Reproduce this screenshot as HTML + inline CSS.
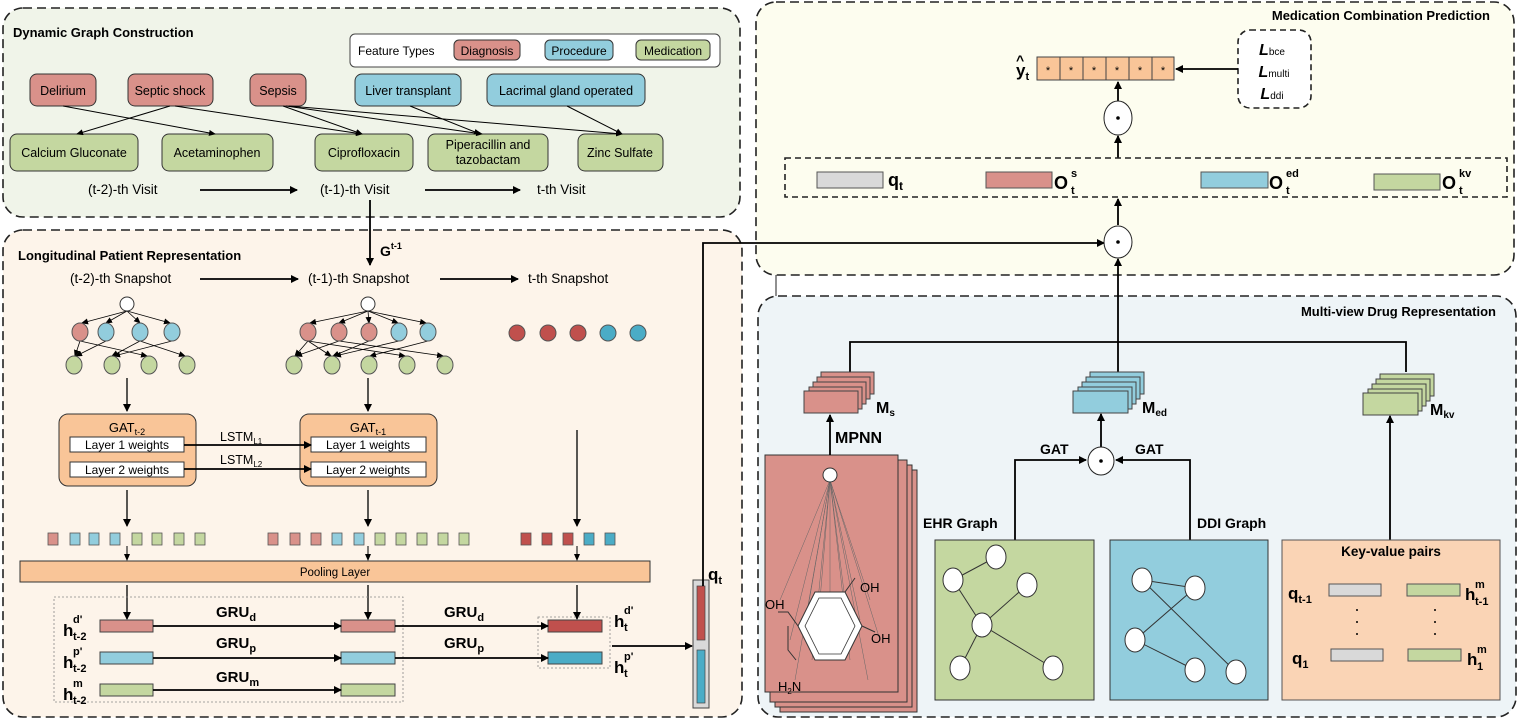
<!DOCTYPE html>
<html><head><meta charset="utf-8"><style>
html,body{margin:0;padding:0;background:#fff}
svg{display:block;font-family:"Liberation Sans",sans-serif}
.b{font-weight:bold}
</style></head><body>
<svg width="1519" height="720" viewBox="0 0 1519 720" xmlns="http://www.w3.org/2000/svg">
<defs>
<marker id="a" markerWidth="8" markerHeight="8" refX="7" refY="4" orient="auto" markerUnits="userSpaceOnUse"><path d="M0,0 L8,4 L0,8 z" fill="#000"/></marker>
<marker id="s" markerWidth="7" markerHeight="6" refX="6" refY="3" orient="auto" markerUnits="userSpaceOnUse"><path d="M0,0 L7,3 L0,6 z" fill="#000"/></marker>
</defs>

<!-- Panels -->
<rect x="3" y="8" width="737" height="209" rx="20" fill="#f0f4e9" stroke="#222" stroke-width="1.6" stroke-dasharray="9,5"/>
<rect x="3" y="230" width="739" height="487" rx="20" fill="#fdf4ea" stroke="#222" stroke-width="1.6" stroke-dasharray="9,5"/>
<rect x="756" y="2" width="758" height="273" rx="20" fill="#fdfdef" stroke="#222" stroke-width="1.6" stroke-dasharray="9,5"/>
<rect x="758" y="296" width="758" height="421" rx="20" fill="#eef4f7" stroke="#222" stroke-width="1.6" stroke-dasharray="9,5"/>
<line x1="776" y1="275" x2="776" y2="296" stroke="#222"/>

<!-- Dynamic Graph Construction -->
<text x="13" y="37" font-size="13" class="b">Dynamic Graph Construction</text>
<rect x="350" y="34" width="370" height="33" rx="5" fill="#fff" stroke="#444"/>
<text x="358" y="55" font-size="12">Feature Types</text>
<rect x="454" y="40" width="66" height="20" rx="5" fill="#d9918a" stroke="#333"/><text x="487" y="55" font-size="12" text-anchor="middle">Diagnosis</text>
<rect x="545" y="40" width="68" height="20" rx="5" fill="#92cddd" stroke="#333"/><text x="579" y="55" font-size="12" text-anchor="middle">Procedure</text>
<rect x="636" y="40" width="74" height="20" rx="5" fill="#c4d7a0" stroke="#333"/><text x="673" y="55" font-size="12" text-anchor="middle">Medication</text>

<g font-size="12.5" text-anchor="middle" stroke="#333">
<rect x="30" y="74" width="66" height="32" rx="7" fill="#d9918a"/>
<rect x="128" y="74" width="85" height="32" rx="7" fill="#d9918a"/>
<rect x="250" y="74" width="56" height="32" rx="7" fill="#d9918a"/>
<rect x="355" y="74" width="106" height="32" rx="7" fill="#92cddd"/>
<rect x="487" y="74" width="158" height="32" rx="7" fill="#92cddd"/>
<rect x="10" y="134" width="128" height="37" rx="7" fill="#c4d7a0"/>
<rect x="162" y="134" width="111" height="37" rx="7" fill="#c4d7a0"/>
<rect x="315" y="134" width="98" height="37" rx="7" fill="#c4d7a0"/>
<rect x="428" y="134" width="120" height="37" rx="7" fill="#c4d7a0"/>
<rect x="578" y="134" width="85" height="37" rx="7" fill="#c4d7a0"/>
</g>
<g font-size="12.5" text-anchor="middle">
<text x="63" y="95">Delirium</text>
<text x="170" y="95">Septic shock</text>
<text x="278" y="95">Sepsis</text>
<text x="408" y="95">Liver transplant</text>
<text x="566" y="95">Lacrimal gland operated</text>
<text x="74" y="157">Calcium Gluconate</text>
<text x="217" y="157">Acetaminophen</text>
<text x="364" y="157">Ciprofloxacin</text>
<text x="488" y="149">Piperacillin and</text>
<text x="488" y="164">tazobactam</text>
<text x="620" y="157">Zinc Sulfate</text>
</g>
<g stroke="#000" stroke-width="1" marker-end="url(#s)">
<line x1="63" y1="106" x2="215" y2="134"/>
<line x1="170" y1="106" x2="77" y2="134"/>
<line x1="175" y1="106" x2="362" y2="134"/>
<line x1="283" y1="106" x2="362" y2="134"/>
<line x1="286" y1="106" x2="482" y2="134"/>
<line x1="289" y1="106" x2="622" y2="134"/>
<line x1="410" y1="106" x2="480" y2="134"/>
<line x1="567" y1="106" x2="622" y2="134"/>
</g>
<g font-size="13.5">
<text x="88" y="194">(t-2)-th Visit</text>
<text x="320" y="194">(t-1)-th Visit</text>
<text x="537" y="194">t-th Visit</text>
</g>
<g stroke="#000" stroke-width="1.8" marker-end="url(#a)">
<line x1="200" y1="190" x2="297" y2="190"/>
<line x1="425" y1="190" x2="520" y2="190"/>
<line x1="370" y1="200" x2="370" y2="265"/>
</g>
<text x="380" y="256" font-size="14" class="b">G<tspan font-size="9" dy="-7">t-1</tspan></text>

<!-- Longitudinal -->
<text x="18" y="260" font-size="13" class="b">Longitudinal Patient Representation</text>
<g font-size="13.5">
<text x="70" y="283">(t-2)-th Snapshot</text>
<text x="308" y="283">(t-1)-th Snapshot</text>
<text x="528" y="283">t-th Snapshot</text>
</g>
<g stroke="#000" stroke-width="1.8" marker-end="url(#a)">
<line x1="200" y1="279" x2="298" y2="279"/>
<line x1="440" y1="279" x2="518" y2="279"/>
</g>
<!-- tree 1 -->
<g stroke="#000" stroke-width="0.8" marker-end="url(#s)">
<line x1="127" y1="311" x2="82" y2="323"/><line x1="127" y1="311" x2="106" y2="323"/><line x1="127" y1="311" x2="140" y2="323"/><line x1="127" y1="311" x2="170" y2="323"/>
<line x1="80" y1="341" x2="75" y2="356"/><line x1="80" y1="341" x2="147" y2="356"/><line x1="106" y1="341" x2="76" y2="356"/><line x1="140" y1="341" x2="112" y2="356"/><line x1="140" y1="341" x2="185" y2="356"/><line x1="172" y1="341" x2="114" y2="356"/>
</g>
<circle cx="127" cy="304" r="7" fill="#fff" stroke="#333"/>
<g stroke="#555"><ellipse cx="80" cy="332" rx="8" ry="9" fill="#d9918a"/><ellipse cx="106" cy="332" rx="8" ry="9" fill="#92cddd"/><ellipse cx="140" cy="332" rx="8" ry="9" fill="#92cddd"/><ellipse cx="172" cy="332" rx="8" ry="9" fill="#92cddd"/>
<ellipse cx="74" cy="365" rx="8" ry="9" fill="#c4d7a0"/><ellipse cx="112" cy="365" rx="8" ry="9" fill="#c4d7a0"/><ellipse cx="149" cy="365" rx="8" ry="9" fill="#c4d7a0"/><ellipse cx="187" cy="365" rx="8" ry="9" fill="#c4d7a0"/></g>
<!-- tree 2 -->
<g stroke="#000" stroke-width="0.8" marker-end="url(#s)">
<line x1="368" y1="311" x2="310" y2="323"/><line x1="368" y1="311" x2="339" y2="323"/><line x1="368" y1="311" x2="369" y2="323"/><line x1="368" y1="311" x2="398" y2="323"/><line x1="368" y1="311" x2="426" y2="323"/>
<line x1="308" y1="341" x2="295" y2="356"/><line x1="308" y1="341" x2="331" y2="356"/><line x1="308" y1="341" x2="405" y2="356"/><line x1="339" y1="341" x2="296" y2="356"/><line x1="339" y1="341" x2="443" y2="356"/><line x1="369" y1="341" x2="333" y2="356"/><line x1="399" y1="341" x2="335" y2="356"/><line x1="428" y1="341" x2="370" y2="356"/>
</g>
<circle cx="368" cy="304" r="7" fill="#fff" stroke="#333"/>
<g stroke="#555"><ellipse cx="308" cy="332" rx="8" ry="9" fill="#d9918a"/><ellipse cx="339" cy="332" rx="8" ry="9" fill="#d9918a"/><ellipse cx="369" cy="332" rx="8" ry="9" fill="#d9918a"/><ellipse cx="399" cy="332" rx="8" ry="9" fill="#92cddd"/><ellipse cx="428" cy="332" rx="8" ry="9" fill="#92cddd"/>
<ellipse cx="294" cy="365" rx="8" ry="9" fill="#c4d7a0"/><ellipse cx="332" cy="365" rx="8" ry="9" fill="#c4d7a0"/><ellipse cx="369" cy="365" rx="8" ry="9" fill="#c4d7a0"/><ellipse cx="407" cy="365" rx="8" ry="9" fill="#c4d7a0"/><ellipse cx="445" cy="365" rx="8" ry="9" fill="#c4d7a0"/></g>
<g stroke="#555"><circle cx="517" cy="333" r="8" fill="#c0504d"/><circle cx="548" cy="333" r="8" fill="#c0504d"/><circle cx="578" cy="333" r="8" fill="#c0504d"/><circle cx="608" cy="333" r="8" fill="#4bacc6"/><circle cx="638" cy="333" r="8" fill="#4bacc6"/></g>
<g stroke="#000" stroke-width="1.3" marker-end="url(#a)">
<line x1="127" y1="378" x2="127" y2="411"/><line x1="368" y1="378" x2="368" y2="411"/><line x1="577" y1="430" x2="577" y2="526"/>
<line x1="127" y1="490" x2="127" y2="526"/><line x1="368" y1="490" x2="368" y2="526"/>
</g>
<!-- GAT boxes -->
<rect x="59" y="414" width="137" height="72" rx="9" fill="#f9c598" stroke="#333"/>
<rect x="300" y="414" width="137" height="72" rx="9" fill="#f9c598" stroke="#333"/>
<text x="127" y="432" font-size="13" text-anchor="middle">GAT<tspan font-size="9" dy="3">t-2</tspan></text>
<text x="368" y="432" font-size="13" text-anchor="middle">GAT<tspan font-size="9" dy="3">t-1</tspan></text>
<g fill="#fff" stroke="#333"><rect x="70" y="437" width="114" height="15"/><rect x="70" y="462" width="114" height="15"/><rect x="311" y="437" width="115" height="15"/><rect x="311" y="462" width="115" height="15"/></g>
<g font-size="12" text-anchor="middle"><text x="127" y="449">Layer 1 weights</text><text x="127" y="474">Layer 2 weights</text><text x="368" y="449">Layer 1 weights</text><text x="368" y="474">Layer 2 weights</text></g>
<text x="220" y="441" font-size="12.5">LSTM<tspan font-size="8" dy="3">L1</tspan></text>
<text x="220" y="464" font-size="12.5">LSTM<tspan font-size="8" dy="3">L2</tspan></text>
<g stroke="#000" stroke-width="1.8" marker-end="url(#a)"><line x1="184" y1="445" x2="311" y2="445"/><line x1="184" y1="469" x2="311" y2="469"/></g>
<!-- squares -->
<g stroke="#555" stroke-width="0.8">
<rect x="48" y="533" width="10" height="12" fill="#d9918a"/><rect x="70" y="533" width="10" height="12" fill="#92cddd"/><rect x="89" y="533" width="10" height="12" fill="#92cddd"/><rect x="110" y="533" width="10" height="12" fill="#92cddd"/><rect x="132" y="533" width="10" height="12" fill="#c4d7a0"/><rect x="152" y="533" width="10" height="12" fill="#c4d7a0"/><rect x="174" y="533" width="10" height="12" fill="#c4d7a0"/><rect x="195" y="533" width="10" height="12" fill="#c4d7a0"/>
<rect x="268" y="533" width="10" height="12" fill="#d9918a"/><rect x="290" y="533" width="10" height="12" fill="#d9918a"/><rect x="311" y="533" width="10" height="12" fill="#d9918a"/><rect x="332" y="533" width="10" height="12" fill="#92cddd"/><rect x="354" y="533" width="10" height="12" fill="#92cddd"/><rect x="375" y="533" width="10" height="12" fill="#c4d7a0"/><rect x="396" y="533" width="10" height="12" fill="#c4d7a0"/><rect x="417" y="533" width="10" height="12" fill="#c4d7a0"/><rect x="438" y="533" width="10" height="12" fill="#c4d7a0"/><rect x="459" y="533" width="10" height="12" fill="#c4d7a0"/>
<rect x="521" y="533" width="10" height="12" fill="#c0504d"/><rect x="542" y="533" width="10" height="12" fill="#c0504d"/><rect x="563" y="533" width="10" height="12" fill="#c0504d"/><rect x="584" y="533" width="10" height="12" fill="#4bacc6"/><rect x="605" y="533" width="10" height="12" fill="#4bacc6"/>
</g>
<g stroke="#000" stroke-width="1" marker-end="url(#s)"><line x1="127" y1="546" x2="127" y2="560"/><line x1="368" y1="546" x2="368" y2="560"/><line x1="577" y1="546" x2="577" y2="560"/></g>
<rect x="20" y="561" width="630" height="21" fill="#f9c598" stroke="#333"/>
<text x="335" y="576" font-size="11.5" text-anchor="middle">Pooling Layer</text>
<g stroke="#000" stroke-width="1.3" marker-end="url(#a)"><line x1="127" y1="585" x2="127" y2="619"/><line x1="368" y1="585" x2="368" y2="619"/><line x1="577" y1="585" x2="577" y2="619"/></g>
<rect x="54" y="597" width="349" height="105" fill="none" stroke="#888" stroke-dasharray="2,2" stroke-width="0.8"/>
<rect x="538" y="617" width="72" height="51" fill="none" stroke="#888" stroke-dasharray="2,2" stroke-width="0.8"/>
<g stroke="#444">
<rect x="100" y="620" width="53" height="12" fill="#d9918a"/><rect x="341" y="620" width="54" height="12" fill="#d9918a"/><rect x="548" y="620" width="54" height="12" fill="#c0504d"/>
<rect x="100" y="652" width="53" height="12" fill="#92cddd"/><rect x="341" y="652" width="54" height="12" fill="#92cddd"/><rect x="548" y="652" width="54" height="12" fill="#4bacc6"/>
<rect x="100" y="684" width="53" height="12" fill="#c4d7a0"/><rect x="341" y="684" width="54" height="12" fill="#c4d7a0"/>
</g>
<g stroke="#000" stroke-width="1.8" marker-end="url(#a)">
<line x1="153" y1="626" x2="341" y2="626"/><line x1="395" y1="626" x2="548" y2="626"/>
<line x1="153" y1="658" x2="341" y2="658"/><line x1="395" y1="658" x2="548" y2="658"/>
<line x1="153" y1="690" x2="341" y2="690"/>
<line x1="612" y1="646" x2="692" y2="646"/>
</g>
<g font-size="15" class="b">
<text x="216" y="617">GRU<tspan font-size="11" dy="4">d</tspan></text>
<text x="444" y="617">GRU<tspan font-size="11" dy="4">d</tspan></text>
<text x="216" y="648">GRU<tspan font-size="11" dy="4">p</tspan></text>
<text x="444" y="648">GRU<tspan font-size="11" dy="4">p</tspan></text>
<text x="216" y="682">GRU<tspan font-size="11" dy="4">m</tspan></text>
</g>
<g font-size="17" class="b">
<text x="63" y="636">h</text><text x="73" y="623" font-size="11">d'</text><text x="73" y="640" font-size="11">t-2</text>
<text x="63" y="668">h</text><text x="73" y="655" font-size="11">p'</text><text x="73" y="672" font-size="11">t-2</text>
<text x="63" y="700">h</text><text x="73" y="687" font-size="11">m</text><text x="73" y="704" font-size="11">t-2</text>
<text x="614" y="627">h</text><text x="624" y="614" font-size="11">d'</text><text x="624" y="631" font-size="11">t</text>
<text x="614" y="673">h</text><text x="624" y="660" font-size="11">p'</text><text x="624" y="677" font-size="11">t</text>
<text x="708" y="580">q<tspan font-size="11" dy="4">t</tspan></text>
</g>
<rect x="693" y="580" width="16" height="128" fill="#d9d9d9" stroke="#444"/>
<rect x="697" y="586" width="8" height="54" fill="#c0504d" stroke="#444" stroke-width="0.7"/>
<rect x="697" y="650" width="8" height="53" fill="#4bacc6" stroke="#444" stroke-width="0.7"/>
<polyline points="703,586 703,243 1104,243" fill="none" stroke="#000" stroke-width="1.8" marker-end="url(#a)"/>

<!-- Medication Combination Prediction -->
<text x="1490" y="20" font-size="13" class="b" text-anchor="end">Medication Combination Prediction</text>
<g fill="#f9c598" stroke="#444">
<rect x="1037" y="57" width="23" height="23"/><rect x="1060" y="57" width="23" height="23"/><rect x="1083" y="57" width="23" height="23"/><rect x="1106" y="57" width="23" height="23"/><rect x="1129" y="57" width="23" height="23"/><rect x="1152" y="57" width="22" height="23"/>
</g>
<g font-size="11" text-anchor="middle"><text x="1048" y="74">*</text><text x="1071" y="74">*</text><text x="1094" y="74">*</text><text x="1117" y="74">*</text><text x="1140" y="74">*</text><text x="1163" y="74">*</text></g>
<text x="1016" y="76" font-size="17" class="b">y<tspan font-size="11" dy="4">t</tspan></text>
<text x="1016" y="65" font-size="14" class="b">^</text>
<rect x="1238" y="30" width="73" height="78" rx="12" fill="#fff" stroke="#222" stroke-width="1.6" stroke-dasharray="6,4"/>
<g font-size="16" font-style="italic" class="b" text-anchor="middle">
<text x="1272" y="55">L<tspan font-size="10" font-style="normal" font-weight="normal">bce</tspan></text>
<text x="1274" y="77">L<tspan font-size="10" font-style="normal" font-weight="normal">multi</tspan></text>
<text x="1272" y="99">L<tspan font-size="10" font-style="normal" font-weight="normal">ddi</tspan></text>
</g>
<g stroke="#000" stroke-width="1.8" marker-end="url(#a)">
<line x1="1238" y1="69" x2="1176" y2="69"/>
<line x1="1118" y1="101" x2="1118" y2="82"/>
<line x1="1118" y1="158" x2="1118" y2="136"/>
<line x1="1118" y1="225" x2="1118" y2="199"/>
<line x1="1118" y1="342" x2="1118" y2="259"/>
</g>
<ellipse cx="1118" cy="118" rx="14" ry="17" fill="#fff" stroke="#222"/><circle cx="1118" cy="118" r="1.8"/>
<ellipse cx="1118" cy="242" rx="14" ry="16" fill="#fff" stroke="#222"/><circle cx="1118" cy="242" r="1.8"/>
<rect x="785" y="158" width="722" height="39" fill="none" stroke="#222" stroke-width="1.6" stroke-dasharray="6,4"/>
<g stroke="#555">
<rect x="817" y="172" width="66" height="16" fill="#d9d9d9"/>
<rect x="986" y="172" width="66" height="16" fill="#d9918a"/>
<rect x="1201" y="172" width="67" height="16" fill="#92cddd"/>
<rect x="1374" y="174" width="66" height="16" fill="#c4d7a0"/>
</g>
<g font-size="18" class="b">
<text x="888" y="186">q<tspan font-size="12" dy="4">t</tspan></text>
<text x="1054" y="189">O</text><text x="1071" y="177" font-size="11">s</text><text x="1071" y="194" font-size="11">t</text>
<text x="1269" y="189">O</text><text x="1286" y="177" font-size="11">ed</text><text x="1286" y="194" font-size="11">t</text>
<text x="1442" y="189">O</text><text x="1459" y="177" font-size="11">kv</text><text x="1459" y="194" font-size="11">t</text>
</g>

<!-- Multi-view Drug Representation -->
<text x="1496" y="316" font-size="13" class="b" text-anchor="end">Multi-view Drug Representation</text>
<polyline points="850,372 850,342 1406,342 1406,372" fill="none" stroke="#000" stroke-width="1.8"/>
<line x1="1118" y1="342" x2="1118" y2="372" stroke="#000" stroke-width="1.8"/>
<!-- Ms stack -->
<g fill="#d9918a" stroke="#444">
<rect x="821" y="372" width="53" height="22"/><rect x="817" y="377" width="53" height="22"/><rect x="813" y="382" width="53" height="22"/><rect x="809" y="387" width="53" height="22"/><rect x="804" y="391" width="54" height="22"/>
</g>
<g fill="#92cddd" stroke="#444">
<rect x="1090" y="372" width="54" height="22"/><rect x="1086" y="377" width="54" height="22"/><rect x="1082" y="382" width="54" height="22"/><rect x="1078" y="387" width="54" height="22"/><rect x="1073" y="391" width="55" height="22"/>
</g>
<g fill="#c4d7a0" stroke="#444">
<rect x="1380" y="374" width="54" height="22"/><rect x="1376" y="379" width="54" height="22"/><rect x="1372" y="384" width="54" height="22"/><rect x="1368" y="389" width="54" height="22"/><rect x="1363" y="393" width="55" height="22"/>
</g>
<g font-size="16" class="b">
<text x="876" y="413">M<tspan font-size="10" dy="3">s</tspan></text>
<text x="1142" y="413">M<tspan font-size="10" dy="3">ed</tspan></text>
<text x="1430" y="415">M<tspan font-size="10" dy="3">kv</tspan></text>
<text x="835" y="443">MPNN</text>
<text x="1040" y="454" font-size="14">GAT</text>
<text x="1135" y="454" font-size="14">GAT</text>
<text x="923" y="528" font-size="14">EHR Graph</text>
<text x="1197" y="528" font-size="14">DDI Graph</text>
</g>
<!-- molecule stack -->
<g fill="#d9918a" stroke="#333">
<rect x="780" y="470" width="137" height="242"/><rect x="775" y="465" width="137" height="242"/><rect x="770" y="460" width="137" height="242"/><rect x="765" y="455" width="133" height="237"/>
</g>
<g stroke="#666" stroke-width="0.5" fill="none">
<line x1="830" y1="480" x2="780" y2="600"/><line x1="830" y1="480" x2="790" y2="640"/><line x1="830" y1="480" x2="795" y2="680"/><line x1="830" y1="480" x2="805" y2="625"/><line x1="830" y1="480" x2="812" y2="660"/><line x1="830" y1="480" x2="820" y2="600"/><line x1="830" y1="480" x2="830" y2="640"/><line x1="830" y1="480" x2="845" y2="600"/><line x1="830" y1="480" x2="850" y2="660"/><line x1="830" y1="480" x2="860" y2="620"/><line x1="830" y1="480" x2="870" y2="600"/><line x1="830" y1="480" x2="880" y2="640"/><line x1="830" y1="480" x2="868" y2="680"/>
</g>
<polygon points="815,592 845,592 862,626 845,660 815,660 798,626" fill="#fff" stroke="#333" stroke-width="1"/>
<polygon points="819,598 841,598 855,626 841,654 819,654 805,626" fill="none" stroke="#333" stroke-width="0.8"/>
<g stroke="#333" stroke-width="1" fill="none"><polyline points="845,592 855,578"/><polyline points="862,626 875,632"/><polyline points="798,626 788,612 778,612"/><polyline points="788,626 788,650 796,660"/></g>
<circle cx="830" cy="475" r="7" fill="#fff" stroke="#333"/>
<g font-size="13"><text x="765" y="609">OH</text><text x="860" y="592">OH</text><text x="871" y="643">OH</text><text x="778" y="691">H<tspan font-size="8" dy="3">2</tspan><tspan dy="-3">N</tspan></text></g>
<g stroke="#000" stroke-width="1.8" marker-end="url(#a)">
<line x1="830" y1="455" x2="830" y2="415"/>
<line x1="1101" y1="447" x2="1101" y2="414"/>
<line x1="1390" y1="540" x2="1390" y2="416"/>
</g>
<polyline points="1015,540 1015,460 1086,460" fill="none" stroke="#000" stroke-width="1.8" marker-end="url(#a)"/>
<polyline points="1190,540 1190,460 1116,460" fill="none" stroke="#000" stroke-width="1.8" marker-end="url(#a)"/>
<ellipse cx="1101" cy="461" rx="13" ry="14" fill="#fff" stroke="#222"/><circle cx="1101" cy="461" r="1.8"/>
<!-- EHR -->
<rect x="935" y="540" width="159" height="160" fill="#c4d7a0" stroke="#333"/>
<g stroke="#333" stroke-width="1"><line x1="996" y1="557" x2="953" y2="580"/><line x1="953" y1="580" x2="982" y2="625"/><line x1="1027" y1="585" x2="982" y2="625"/><line x1="982" y1="625" x2="960" y2="668"/><line x1="982" y1="625" x2="1053" y2="668"/></g>
<g fill="#fff" stroke="#333"><ellipse cx="996" cy="557" rx="10" ry="12"/><ellipse cx="953" cy="580" rx="10" ry="12"/><ellipse cx="1027" cy="585" rx="10" ry="12"/><ellipse cx="982" cy="625" rx="10" ry="12"/><ellipse cx="960" cy="668" rx="10" ry="12"/><ellipse cx="1053" cy="668" rx="10" ry="12"/></g>
<!-- DDI -->
<rect x="1110" y="540" width="158" height="160" fill="#92cddd" stroke="#333"/>
<g stroke="#333" stroke-width="1"><line x1="1142" y1="580" x2="1195" y2="588"/><line x1="1142" y1="580" x2="1236" y2="672"/><line x1="1195" y1="588" x2="1135" y2="640"/><line x1="1135" y1="640" x2="1195" y2="670"/></g>
<g fill="#fff" stroke="#333"><ellipse cx="1142" cy="580" rx="10" ry="12"/><ellipse cx="1195" cy="588" rx="10" ry="12"/><ellipse cx="1135" cy="640" rx="10" ry="12"/><ellipse cx="1195" cy="670" rx="10" ry="12"/><ellipse cx="1236" cy="672" rx="10" ry="12"/></g>
<!-- KV -->
<rect x="1282" y="540" width="218" height="160" fill="#fad4b5" stroke="#555"/>
<text x="1391" y="556" font-size="13.5" class="b" text-anchor="middle">Key-value pairs</text>
<g stroke="#555"><rect x="1329" y="584" width="52" height="12" fill="#d9d9d9"/><rect x="1407" y="584" width="53" height="12" fill="#c4d7a0"/><rect x="1331" y="649" width="52" height="12" fill="#d9d9d9"/><rect x="1408" y="649" width="53" height="12" fill="#c4d7a0"/></g>
<g fill="#000"><circle cx="1357" cy="610" r="1"/><circle cx="1357" cy="622" r="1"/><circle cx="1357" cy="634" r="1"/><circle cx="1435" cy="610" r="1"/><circle cx="1435" cy="622" r="1"/><circle cx="1435" cy="634" r="1"/></g>
<g font-size="17" class="b">
<text x="1288" y="599">q<tspan font-size="11" dy="4">t-1</tspan></text>
<text x="1292" y="664">q<tspan font-size="11" dy="4">1</tspan></text>
<text x="1465" y="600">h</text><text x="1475" y="588" font-size="11">m</text><text x="1475" y="605" font-size="11">t-1</text>
<text x="1467" y="665">h</text><text x="1477" y="653" font-size="11">m</text><text x="1477" y="670" font-size="11">1</text>
</g>
</svg>
</body></html>
